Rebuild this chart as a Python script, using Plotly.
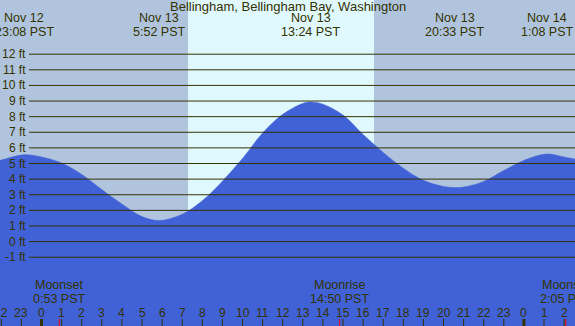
import plotly.graph_objects as go

# ---- data (hours relative to Nov 13 00:00 PST, heights in ft) ----
tide_hours = [-2.1, -2, -0.87, 0, 1, 2, 3, 4, 5, 5.87, 7, 8, 9, 10, 11, 12, 13, 13.4,
              14, 15, 16, 17, 18, 19, 20, 20.55, 21, 22, 23, 24, 25.13, 26, 26.6]
tide_ft = [5.18, 5.22, 5.56, 5.42, 5.03, 4.30, 3.33, 2.40, 1.60, 1.35, 1.75, 2.62, 3.87,
           5.32, 6.95, 8.15, 8.85, 8.94, 8.80, 8.10, 6.85, 5.71, 4.70, 3.92, 3.53, 3.46,
           3.49, 3.85, 4.55, 5.20, 5.61, 5.42, 5.27]

event_hours = [-0.867, 5.867, 13.4, 20.55, 25.133]
event_dates = ["Nov 12", "Nov 13", "Nov 13", "Nov 13", "Nov 14"]
event_times = ["23:08 PST", "5:52 PST", "13:24 PST", "20:33 PST", "1:08 PST"]

moon_hours = [0.883, 14.833, 26.083]
moon_names = ["Moonset", "Moonrise", "Moonset"]
moon_times = ["0:53 PST", "14:50 PST", "2:05 PST"]

sunrise_h = 7.29
sunset_h = 16.54

ft_levels = list(range(-1, 13))
tick_hours = list(range(-2, 27))
tick_labels = [str(h % 24) for h in tick_hours]

title = "Bellingham, Bellingham Bay, Washington"

# ---- styles ----
W, H = 575, 326
NIGHT = "#b0c4de"
DAY = "#e0f8ff"
WATER = "#4161d6"
INK = "#333300"
FONT = "Liberation Sans, Arial, sans-serif"
X_RANGE = [-2.065, 26.542]
Y_RANGE = [-5.405, 15.47]

fig = go.Figure()
fig.add_trace(go.Scatter(x=[X_RANGE[0] - 1, X_RANGE[1] + 1], y=[-8, -8], mode="lines",
                         line=dict(width=0, color=WATER), hoverinfo="skip", showlegend=False))
fig.add_trace(go.Scatter(x=tide_hours, y=tide_ft, mode="lines", fill="tonexty",
                         fillcolor=WATER, line=dict(color=WATER, width=0.5, shape="spline"),
                         hoverinfo="skip", showlegend=False))

shapes = []
shapes.append(dict(type="rect", xref="x", yref="paper", x0=sunrise_h, x1=sunset_h, y0=0, y1=1,
                   fillcolor=DAY, line=dict(width=0), layer="below"))
for f in ft_levels:
    shapes.append(dict(type="line", xref="paper", yref="y", x0=29 / W, x1=1, y0=f, y1=f,
                       line=dict(color=INK, width=1), layer="above"))
for h in tick_hours:
    shapes.append(dict(type="line", xref="x", yref="paper", x0=h, x1=h, y0=0, y1=7 / H,
                       line=dict(color=INK, width=3 if h % 24 == 0 else 1), layer="above"))
for h in moon_hours:
    shapes.append(dict(type="line", xref="x", yref="paper", x0=h, x1=h, y0=0, y1=7 / H,
                       line=dict(color="#ff0000", width=1), layer="above"))

ann = []
def txt(x, y, s, xref="x", xanchor="center", size=12):
    ann.append(dict(x=x, y=y, xref=xref, yref="paper", text=s, showarrow=False, borderpad=0,
                    xanchor=xanchor, yanchor="middle", font=dict(family=FONT, size=size, color=INK)))

txt(0.5, 1 - 7 / H, title, xref="paper", size=13)
for h, d, t in zip(event_hours, event_dates, event_times):
    txt(h, 1 - 18 / H, d, size=12.5)
    txt(h, 1 - 32 / H, t, size=12.5)
for h, n, t in zip(moon_hours, moon_names, moon_times):
    txt(h, 1 - 285 / H, n, size=12.5)
    txt(h, 1 - 299 / H, t, size=12.5)
for h, lab in zip(tick_hours, tick_labels):
    txt(h, 1 - 312.8 / H, lab)
for f in ft_levels:
    ann.append(dict(x=27 / W, y=f, xref="paper", yref="y", text=f"{f} ft", showarrow=False,
                    borderpad=0, xanchor="right", yanchor="middle",
                    font=dict(family=FONT, size=12, color=INK)))

fig.update_layout(
    width=W, height=H, margin=dict(l=0, r=0, t=0, b=0),
    paper_bgcolor=NIGHT, plot_bgcolor=NIGHT,
    xaxis=dict(range=X_RANGE, visible=False, fixedrange=True),
    yaxis=dict(range=Y_RANGE, visible=False, fixedrange=True),
    shapes=shapes, annotations=ann, showlegend=False,
)
fig.write_html("out.html", config={"displayModeBar": False},
               post_script="document.body.style.margin='0';document.body.style.overflow='hidden';")
